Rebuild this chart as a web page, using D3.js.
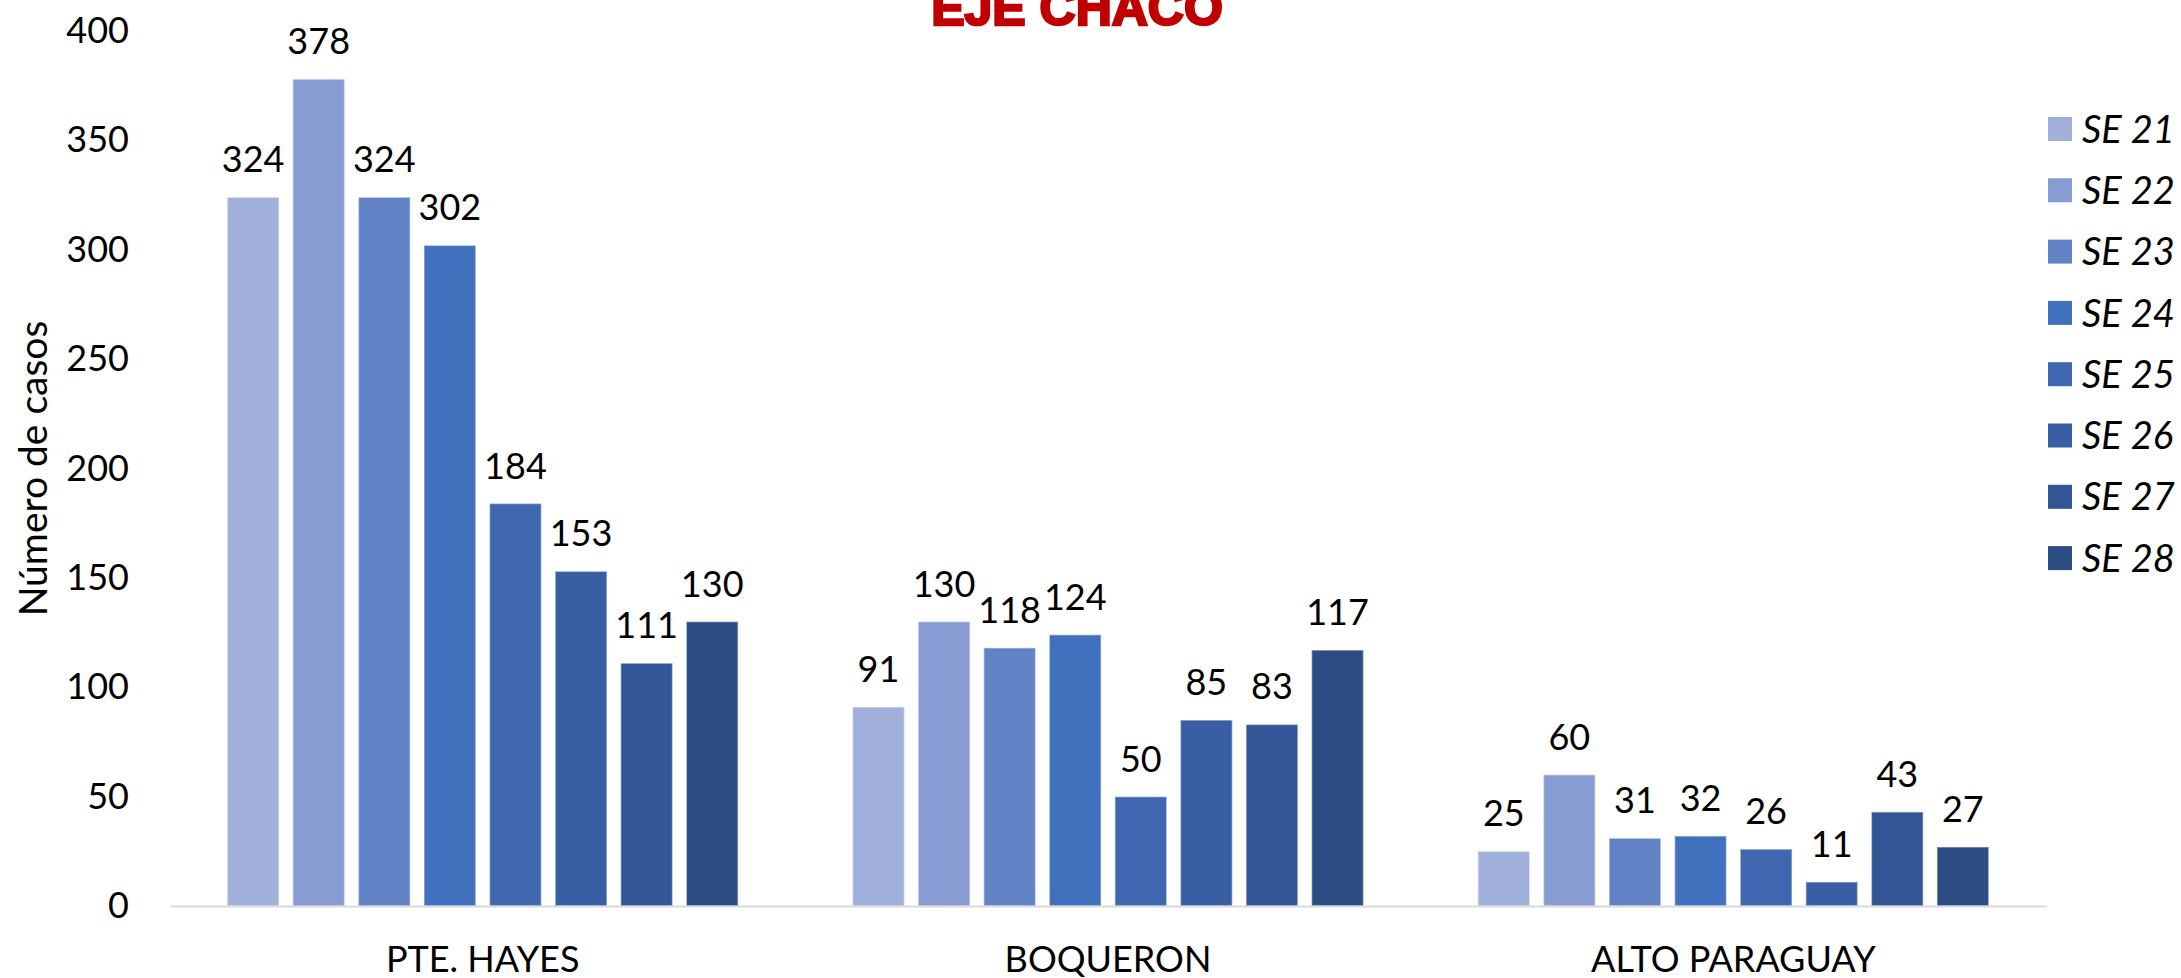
<!DOCTYPE html>
<html lang="es">
<head>
    <meta charset="UTF-8">
    <title>Eje Chaco</title>
    <script src="https://cdn.jsdelivr.net/npm/d3@7"></script>
    <style>
        body {
            margin: 0;
            background: #fff;
        }
        svg text {
            font-family: Lato, "Open Sans", sans-serif;
            fill: #000;
        }
    </style>
</head>
<body>
    <svg id="chart" width="2181" height="978"></svg>

    <script>
        // datos
        const categories = ["PTE. HAYES", "BOQUERON", "ALTO PARAGUAY"];
        const weeks = ["SE 21", "SE 22", "SE 23", "SE 24", "SE 25", "SE 26", "SE 27", "SE 28"];
        const se21 = [324, 91, 25];
        const se22 = [378, 130, 60];
        const se23 = [324, 118, 31];
        const se24 = [302, 124, 32];
        const se25 = [184, 50, 26];
        const se26 = [153, 85, 11];
        const se27 = [111, 83, 43];
        const se28 = [130, 117, 27];
        const yTicks = [0, 50, 100, 150, 200, 250, 300, 350, 400];
        const colors = ["#A1B0DA", "#879CD3", "#6282C6", "#4170BC", "#3E67AF", "#385EA4", "#325595", "#2C4C84"];

        const series = [se21, se22, se23, se24, se25, se26, se27, se28];

        const svg = d3.select("#chart");
        const plotLeft = 170, plotRight = 2046, plotTop = 31, plotBottom = 906;

        const x0 = d3.scaleBand()
            .domain(categories)
            .range([plotLeft, plotRight])
            .paddingInner(0.183)
            .paddingOuter(0.0915);

        const x1 = d3.scaleBand()
            .domain(weeks)
            .range([0, x0.bandwidth()])
            .paddingInner(0.21)
            .paddingOuter(0);

        const y = d3.scaleLinear()
            .domain([0, 400])
            .range([plotBottom, plotTop]);

        const color = d3.scaleOrdinal().domain(weeks).range(colors);

        // titulo (cortado arriba como en el original)
        svg.append("text")
            .attr("x", 1077)
            .attr("y", 25)
            .attr("text-anchor", "middle")
            .style("font-family", "'Liberation Sans', Arial, sans-serif")
            .style("font-weight", "bold")
            .style("font-size", "50px")
            .style("fill", "#C00000")
            .style("stroke", "#C00000")
            .style("stroke-width", "2.5px")
            .text("EJE CHACO");

        // eje y
        const yAxis = svg.append("g")
            .attr("transform", `translate(${plotLeft},0)`)
            .call(d3.axisLeft(y).tickValues(yTicks).tickSize(0).tickPadding(41));
        yAxis.select(".domain").remove();
        yAxis.selectAll("text")
            .style("font-family", "Lato, sans-serif")
            .style("font-size", "36px")
            .attr("fill", "#000");

        svg.append("text")
            .attr("transform", `translate(33,${(plotTop + plotBottom) / 2}) rotate(-90)`)
            .attr("text-anchor", "middle")
            .attr("dy", "0.35em")
            .style("font-size", "39px")
            .text("Número de casos");

        // barras
        const rows = categories.map((c, i) => ({
            cat: c,
            vals: weeks.map((w, j) => ({ week: w, value: series[j][i] }))
        }));

        const groups = svg.append("g")
            .selectAll("g")
            .data(rows)
            .enter()
            .append("g")
            .attr("transform", d => `translate(${x0(d.cat)},0)`);

        groups.selectAll("rect")
            .data(d => d.vals)
            .enter()
            .append("rect")
            .attr("x", d => x1(d.week))
            .attr("y", d => y(d.value))
            .attr("width", x1.bandwidth())
            .attr("height", d => y(0) - y(d.value))
            .style("fill", d => color(d.week))
            .style("stroke", "#ffffff")
            .style("stroke-opacity", 0.45)
            .style("stroke-width", 1.5);

        groups.selectAll("text.lbl")
            .data(d => d.vals)
            .enter()
            .append("text")
            .attr("class", "lbl")
            .attr("x", d => x1(d.week) + x1.bandwidth() / 2)
            .attr("y", d => y(d.value) - 25)
            .attr("text-anchor", "middle")
            .style("font-size", "36px")
            .text(d => d.value);

        // eje x
        const xAxis = svg.append("g")
            .attr("transform", `translate(0,${plotBottom})`)
            .call(d3.axisBottom(x0).tickSize(0).tickSizeOuter(0));
        xAxis.select(".domain")
            .attr("stroke", "#D9D9D9")
            .attr("stroke-width", 2);
        xAxis.selectAll("text")
            .attr("y", 66)
            .attr("dy", null)
            .attr("fill", "#000")
            .style("font-family", "Lato, sans-serif")
            .style("font-size", "36px");

        // leyenda
        const legend = svg.append("g")
            .selectAll("g")
            .data(weeks)
            .enter()
            .append("g")
            .attr("transform", (d, i) => `translate(2048,${117 + i * 61.3})`);

        legend.append("rect")
            .attr("width", 24)
            .attr("height", 24)
            .style("fill", d => color(d));

        legend.append("text")
            .attr("x", 34)
            .attr("y", 12)
            .attr("dy", "0.36em")
            .style("font-size", "38px")
            .style("font-style", "italic")
            .text(d => d);
    </script>
</body>
</html>
